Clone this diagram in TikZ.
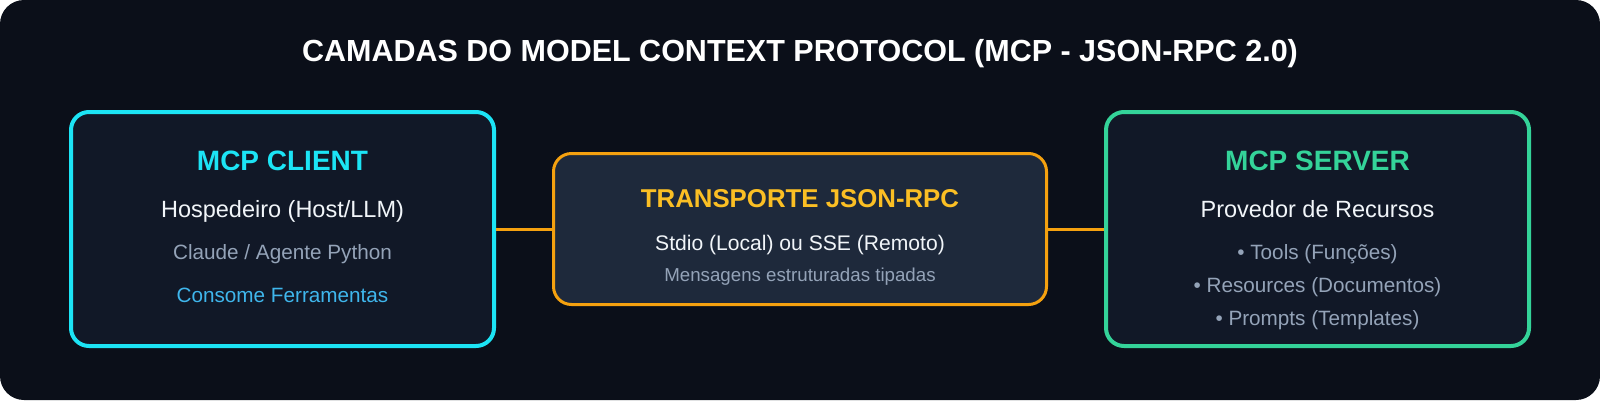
\documentclass[tikz,border=0pt]{standalone}
\usepackage{fontspec}
\setmainfont{Liberation Sans}
\usetikzlibrary{positioning}

\definecolor{bgc}{HTML}{0B0F19}
\definecolor{cardc}{HTML}{111827}
\definecolor{midc}{HTML}{1E293B}
\definecolor{cyanc}{HTML}{1CE4F5}
\definecolor{amberc}{HTML}{F5A10F}
\definecolor{goldc}{HTML}{FBBF24}
\definecolor{greenc}{HTML}{34D399}
\definecolor{skyc}{HTML}{3FB6EC}
\definecolor{grayc}{HTML}{94A3B8}
\definecolor{whitec}{HTML}{F1F5F9}

\newcommand{\fs}[1]{\fontsize{#1}{#1}\selectfont}

\begin{document}
\begin{tikzpicture}[x=1pt,y=-1pt,
					layer/.style={draw,rectangle,rounded corners=18pt,line width=4pt,fill=cardc},
					label/.style={anchor=base,inner sep=0pt},
					wire/.style={draw=amberc,line width=3pt}]
	\useasboundingbox (0,0) rectangle (1600,400);
	\fill[bgc,rounded corners=24pt] (0,0) rectangle (1600,400);
	\node[label,text=white,font=\bfseries\fs{30.5}] (title) at (800,61) {CAMADAS DO MODEL CONTEXT PROTOCOL (MCP - JSON-RPC 2.0)};

	\node[layer,draw=cyanc,minimum width=423pt,minimum height=234pt] (client) at (282.5,229) {};
	\node[layer,draw=amberc,fill=midc,line width=3pt,minimum width=493pt,minimum height=151pt] (transport) at (800,229) {};
	\node[layer,draw=greenc,minimum width=423pt,minimum height=234pt] (server) at (1317.5,229) {};

	\draw[wire] (client.east) -- (transport.west);
	\draw[wire] (transport.east) -- (server.west);

	\node[label,text=cyanc,font=\bfseries\fs{28}] (clientttl) at (282.5,170) {MCP CLIENT};
	\node[label,text=whitec,font=\fs{23.5}] (host) at (282.5,217) {Hospedeiro (Host/LLM)};
	\node[label,text=grayc,font=\fs{20.7}] (agent) at (282.5,259) {Claude / Agente Python};
	\node[label,text=skyc,font=\fs{20.7}] (consume) at (282.5,302) {Consome Ferramentas};

	\node[label,text=goldc,font=\bfseries\fs{25.8}] (transportttl) at (800,207) {TRANSPORTE JSON-RPC};
	\node[label,text=whitec,font=\fs{21.1}] (stdio) at (800,250) {Stdio (Local) ou SSE (Remoto)};
	\node[label,text=grayc,font=\fs{18.7}] (msgs) at (800,281) {Mensagens estruturadas tipadas};

	\node[label,text=greenc,font=\bfseries\fs{28}] (serverttl) at (1317.5,170) {MCP SERVER};
	\node[label,text=whitec,font=\fs{23.5}] (provider) at (1317.5,217) {Provedor de Recursos};
	\node[label,text=grayc,font=\fs{20.7}] (tools) at (1317.5,259) {• Tools (Funções)};
	\node[label,text=grayc,font=\fs{20.7}] (resources) at (1317.5,292) {• Resources (Documentos)};
	\node[label,text=grayc,font=\fs{20.7}] (prompts) at (1317.5,325) {• Prompts (Templates)};
\end{tikzpicture}
\end{document}
